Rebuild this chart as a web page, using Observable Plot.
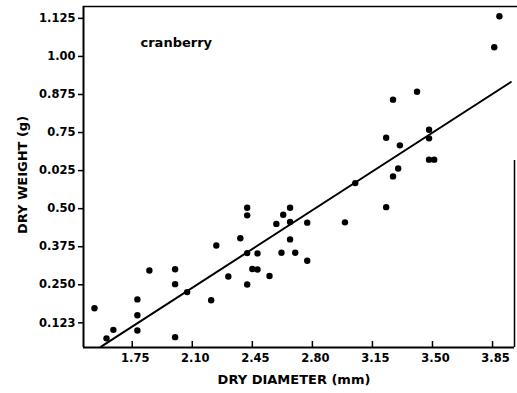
<!DOCTYPE html>
<html>
<head>
<meta charset="utf-8">
<script src="https://cdn.jsdelivr.net/npm/d3@7"></script>
<script src="https://cdn.jsdelivr.net/npm/@observablehq/plot@0.6"></script>
<style>
  body { margin: 0; background: #fff; }
  #chart svg { display: block; }
</style>
</head>
<body>
<div id="chart"></div>
<script>
// Cranberry fruit: dry diameter (mm) against dry weight (g)
const diameter = [1.53, 1.60, 1.64, 1.78, 1.78, 1.78, 1.85, 2.00, 2.00, 2.00, 2.07, 2.21, 2.24, 2.31, 2.38,
  2.42, 2.42, 2.42, 2.42, 2.45, 2.48, 2.48, 2.55, 2.59, 2.62, 2.63, 2.67, 2.67, 2.67, 2.70, 2.77, 2.77,
  2.99, 3.05, 3.23, 3.23, 3.27, 3.27, 3.30, 3.31, 3.41, 3.48, 3.48, 3.48, 3.51, 3.86, 3.89];
const weight = [0.173, 0.074, 0.102, 0.202, 0.150, 0.100, 0.297, 0.301, 0.252, 0.078, 0.226, 0.199, 0.379, 0.277, 0.403,
  0.251, 0.354, 0.503, 0.478, 0.302, 0.300, 0.353, 0.279, 0.450, 0.355, 0.480, 0.399, 0.456, 0.503, 0.355, 0.454, 0.329,
  0.455, 0.584, 0.505, 0.733, 0.606, 0.858, 0.632, 0.708, 0.884, 0.661, 0.731, 0.759, 0.661, 1.030, 1.132];

// Fitted regression line: weight = intercept + slope * diameter
const fitX = [1.569, 3.957];
const fitIntercept = -0.524;
const fitSlope = 0.3639;

const xTickValues = [1.75, 2.10, 2.45, 2.80, 3.15, 3.50, 3.85];
const xTickLabels = ["1.75", "2.10", "2.45", "2.80", "3.15", "3.50", "3.85"];
const yTickValues = [0.125, 0.25, 0.375, 0.5, 0.625, 0.75, 0.875, 1.0, 1.125];
const yTickLabels = ["0.123", "0.250", "0.375", "0.50", "0.025", "0.75", "0.875", "1.00", "1.125"];

const xDomain = [1.466, 3.978];
const yDomain = [0.044, 1.164];

const points = diameter.map((d, i) => ({diameter: d, weight: weight[i]}));
const fitLine = fitX.map(x => ({x, y: fitIntercept + fitSlope * x}));

const font = "DejaVu Sans";

const chart = Plot.plot({
  width: 517,
  height: 393,
  marginLeft: 83,
  marginRight: 3,
  marginTop: 6,
  marginBottom: 46,
  style: {fontFamily: font, background: "#fff", color: "#000"},
  x: {domain: xDomain},
  y: {domain: yDomain},
  marks: [
    // left axis with outward ticks
    Plot.axisY(yTickValues, {
      tickSize: 5, tickPadding: 3, strokeWidth: 1.5,
      tickFormat: d => yTickLabels[yTickValues.indexOf(d)],
      fontSize: 11.5, fontWeight: "bold", label: null
    }),
    // bottom axis labels; ticks point into the plot
    Plot.axisX(xTickValues, {
      tickSize: 0, tickPadding: 6, dx: 3,
      tickFormat: d => xTickLabels[xTickValues.indexOf(d)],
      fontSize: 11.5, fontWeight: "bold", label: null
    }),
    Plot.tickX(xTickValues, {x: d => d, insetTop: 335, strokeWidth: 1.5}),
    // frame lines
    Plot.ruleX([xDomain[0]], {strokeWidth: 2}),
    Plot.ruleY([yDomain[0]], {strokeWidth: 2}),
    Plot.ruleY([yDomain[1]], {strokeWidth: 1.5, insetRight: -3}),
    Plot.ruleX([xDomain[1]], {strokeWidth: 1.5, insetTop: 154}),
    // regression line and observations
    Plot.line(fitLine, {x: "x", y: "y", stroke: "#000", strokeWidth: 2}),
    Plot.dot(points, {x: "diameter", y: "weight", r: 3.2, fill: "#000", stroke: null}),
    // titles
    Plot.text(["cranberry"], {
      frameAnchor: "top-left", dx: 57, dy: 31, textAnchor: "start",
      fontSize: 13, fontWeight: "bold"
    }),
    Plot.text(["DRY DIAMETER (mm)"], {
      frameAnchor: "bottom", dx: -5, dy: 36, fontSize: 13, fontWeight: "bold"
    }),
    Plot.text(["DRY WEIGHT (g)"], {
      frameAnchor: "left", textAnchor: "middle", dx: -61, dy: -2, rotate: -90,
      fontSize: 13, fontWeight: "bold", letterSpacing: 1
    })
  ]
});

document.getElementById("chart").appendChild(chart);
</script>
</body>
</html>
